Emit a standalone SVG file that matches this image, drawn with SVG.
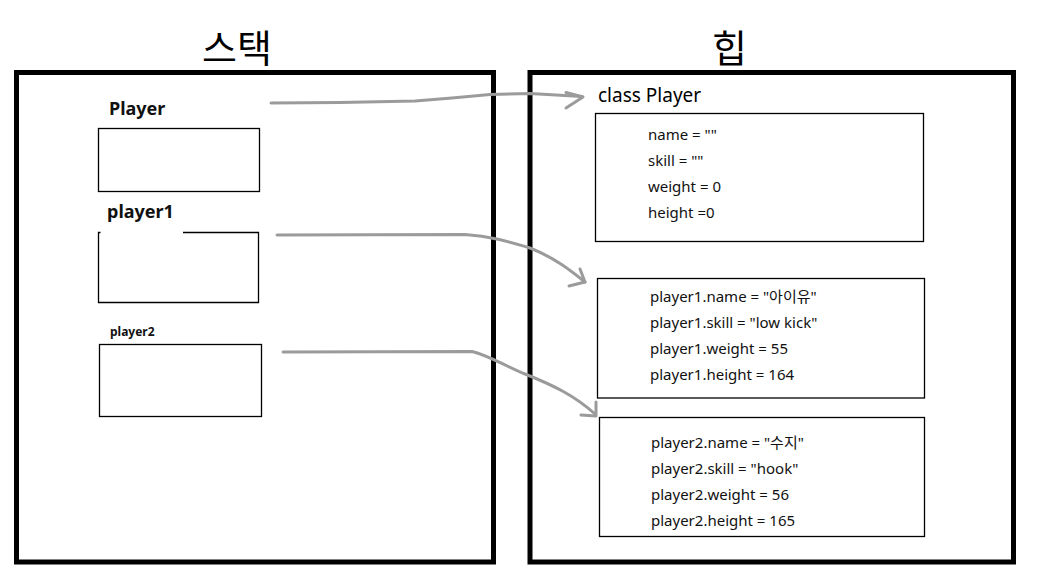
<svg xmlns="http://www.w3.org/2000/svg" width="1040" height="575" viewBox="0 0 1040 575">
<style>
.frame{fill:none;stroke:#000;stroke-width:5}
.box{fill:#fff;stroke:#000;stroke-width:1.3}
.title{font-family:"Noto Sans CJK KR","Noto Sans",sans-serif;font-size:38px;fill:#000}
.lbl{font-family:"Noto Sans","Noto Sans CJK KR",sans-serif;font-weight:bold;fill:#111}
.txt{font-family:"Noto Sans","Noto Sans CJK KR",sans-serif;font-size:15px;fill:#111}
.cls{font-family:"Noto Sans","Noto Sans CJK KR",sans-serif;font-size:19px;fill:#000}
.conn{fill:none;stroke:#9b9b9b;stroke-width:3;stroke-linecap:round;stroke-linejoin:round}
</style>
<rect width="1040" height="575" fill="#fff"/>
<g id="stack">
<text class="title" x="202" y="62">스택</text>
<rect class="frame" x="16.5" y="72.5" width="477" height="489.5"/>
</g>
<g id="heap">
<text class="title" x="712" y="62">힙</text>
<rect class="frame" x="530" y="72.5" width="483.5" height="489.5"/>
</g>
<g id="var-Player">
<text class="lbl" x="109" y="115" font-size="18">Player</text>
<rect class="box" x="98.5" y="128.5" width="161" height="63"/>
</g>
<g id="var-player1">
<text class="lbl" x="107" y="218" font-size="18">player1</text>
<path class="box" d="M183,232.5 H258.5 V302.5 H98.5 V232.5 H100.5"/>
</g>
<g id="var-player2">
<text class="lbl" x="110" y="336" font-size="12">player2</text>
<rect class="box" x="99.5" y="344.5" width="162" height="72"/>
</g>
<g id="class-Player">
<text class="cls" x="598" y="102">class Player</text>
<rect class="box" x="595.5" y="113.5" width="328" height="128"/>
<text class="txt" x="648" y="140">name = ""</text>
<text class="txt" x="648" y="166">skill = ""</text>
<text class="txt" x="648" y="192">weight = 0</text>
<text class="txt" x="648" y="218">height =0</text>
</g>
<g id="obj-player1">
<rect class="box" x="597.5" y="278.5" width="327" height="119.5"/>
<text class="txt" x="650" y="302">player1.name = "아이유"</text>
<text class="txt" x="650" y="328">player1.skill = "low kick"</text>
<text class="txt" x="650" y="354">player1.weight = 55</text>
<text class="txt" x="650" y="380">player1.height = 164</text>
</g>
<g id="obj-player2">
<rect class="box" x="599.5" y="417.5" width="325" height="119"/>
<text class="txt" x="651" y="448">player2.name = "수지"</text>
<text class="txt" x="651" y="474">player2.skill = "hook"</text>
<text class="txt" x="651" y="500">player2.weight = 56</text>
<text class="txt" x="651" y="526">player2.height = 165</text>
</g>
<g id="connectors">
<path class="conn" d="M271,103 L340,102.5 L415,101 L452,98 L490,94.5 L530,93.5 L582,96.5"/>
<path class="conn" d="M566,92.5 L583,97 L566,108"/>
<path class="conn" d="M277,235 L465,234.5 C490,236 510,242 530,248 C555,258 570,270 585,282"/>
<path class="conn" d="M580,269 L585,282 L569,286"/>
<path class="conn" d="M283,352 L472,351.5 C490,356 505,366 525,374 C555,386 575,396 595,414"/>
<path class="conn" d="M581,415 L596,416 L596,402"/>
</g>
</svg>
